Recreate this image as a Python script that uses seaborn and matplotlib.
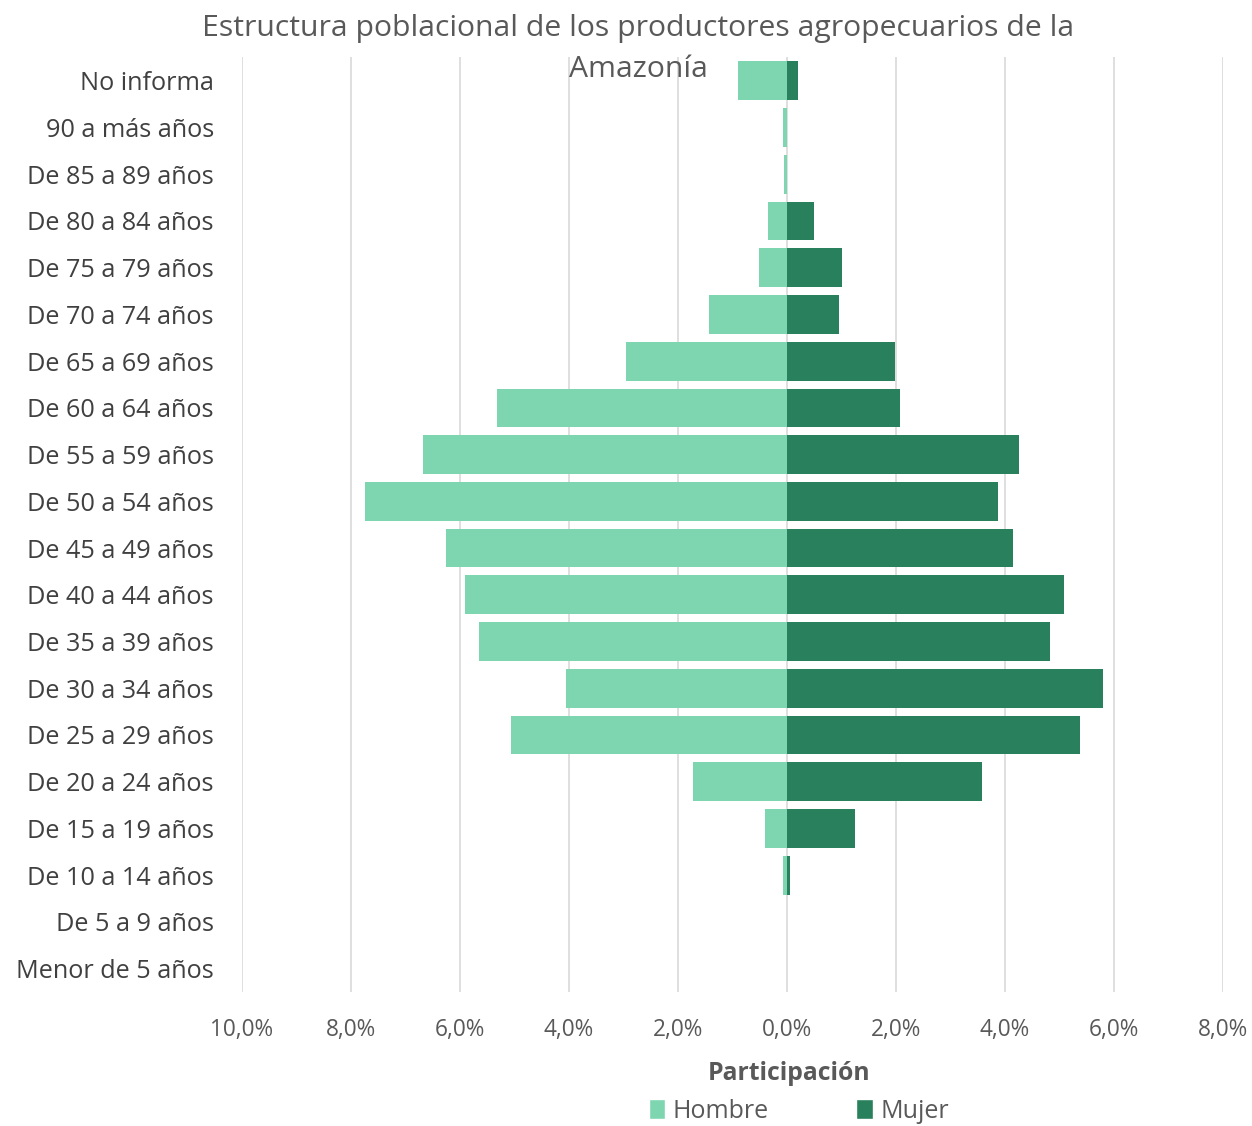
import pandas as pd
import numpy as np
import matplotlib.pyplot as plt
import seaborn as sns
from matplotlib.patches import Patch

grupos = ['No informa', '90 a más años', 'De 85 a 89 años', 'De 80 a 84 años',
          'De 75 a 79 años', 'De 70 a 74 años', 'De 65 a 69 años', 'De 60 a 64 años',
          'De 55 a 59 años', 'De 50 a 54 años', 'De 45 a 49 años', 'De 40 a 44 años',
          'De 35 a 39 años', 'De 30 a 34 años', 'De 25 a 29 años', 'De 20 a 24 años',
          'De 15 a 19 años', 'De 10 a 14 años', 'De 5 a 9 años', 'Menor de 5 años']
hombre = [0.90, 0.07, 0.05, 0.35, 0.51, 1.43, 2.95, 5.32, 6.68, 7.73,
          6.26, 5.91, 5.65, 4.06, 5.06, 1.72, 0.40, 0.08, 0.0, 0.0]
mujer = [0.21, 0.0, 0.0, 0.50, 1.01, 0.95, 1.98, 2.07, 4.26, 3.87,
         4.15, 5.08, 4.83, 5.80, 5.37, 3.58, 1.25, 0.05, 0.0, 0.0]
ticks = [-10, -8, -6, -4, -2, 0, 2, 4, 6, 8]
colores = {'Hombre': '#7DD6B0', 'Mujer': '#28805C'}

sns.set_style('white')
plt.rcParams['font.family'] = ['Open Sans', 'DejaVu Sans']

df = pd.DataFrame({
    'grupo': grupos * 2,
    'valor': [-v for v in hombre] + mujer,
    'sexo': ['Hombre'] * len(grupos) + ['Mujer'] * len(grupos),
})

fig = plt.figure(figsize=(12.52, 11.26), dpi=100)
ax = fig.add_axes([0.193, 0.119, 0.784, 0.830])

sns.barplot(data=df, y='grupo', x='valor', hue='sexo', order=grupos,
            palette=colores, saturation=1, dodge=False, orient='h',
            width=0.83, ax=ax, legend=False, linewidth=0)

ax.set_xlim(-10, 8)
ax.set_ylim(len(grupos) - 0.5, -0.5)
ax.set_xticks(ticks)
ax.set_xticklabels([f'{abs(t):.1f}'.replace('.', ',') + '%' for t in ticks])
ax.xaxis.grid(True, color='#D9D9D9', linewidth=1.2)
ax.set_axisbelow(True)
for s in ax.spines.values():
    s.set_visible(False)
ax.tick_params(axis='x', length=0, pad=19, labelsize=16.3, labelcolor='#595959')
ax.tick_params(axis='y', length=0, pad=20, labelsize=18.2, labelcolor='#404040')
ax.set_xlabel('')
ax.set_ylabel('')

fig.text(0.51, 0.988, 'Estructura poblacional de los productores agropecuarios de la\nAmazonía',
         ha='center', va='top', fontsize=21.7, color='#595959', linespacing=1.55)
fig.text(0.630, 0.047, 'Participación', ha='center', va='center', fontsize=17.8,
         fontweight='bold', color='#595959')

handles = [Patch(facecolor=colores['Hombre'], label='Hombre'),
           Patch(facecolor=colores['Mujer'], label='Mujer')]
fig.legend(handles=handles, loc='center', bbox_to_anchor=(0.638, 0.013), ncol=2,
           frameon=False, fontsize=18, handlelength=0.65, handleheight=0.85,
           handletextpad=0.3, columnspacing=3.5, labelcolor='#595959')

fig.savefig('out.png', dpi=100)
